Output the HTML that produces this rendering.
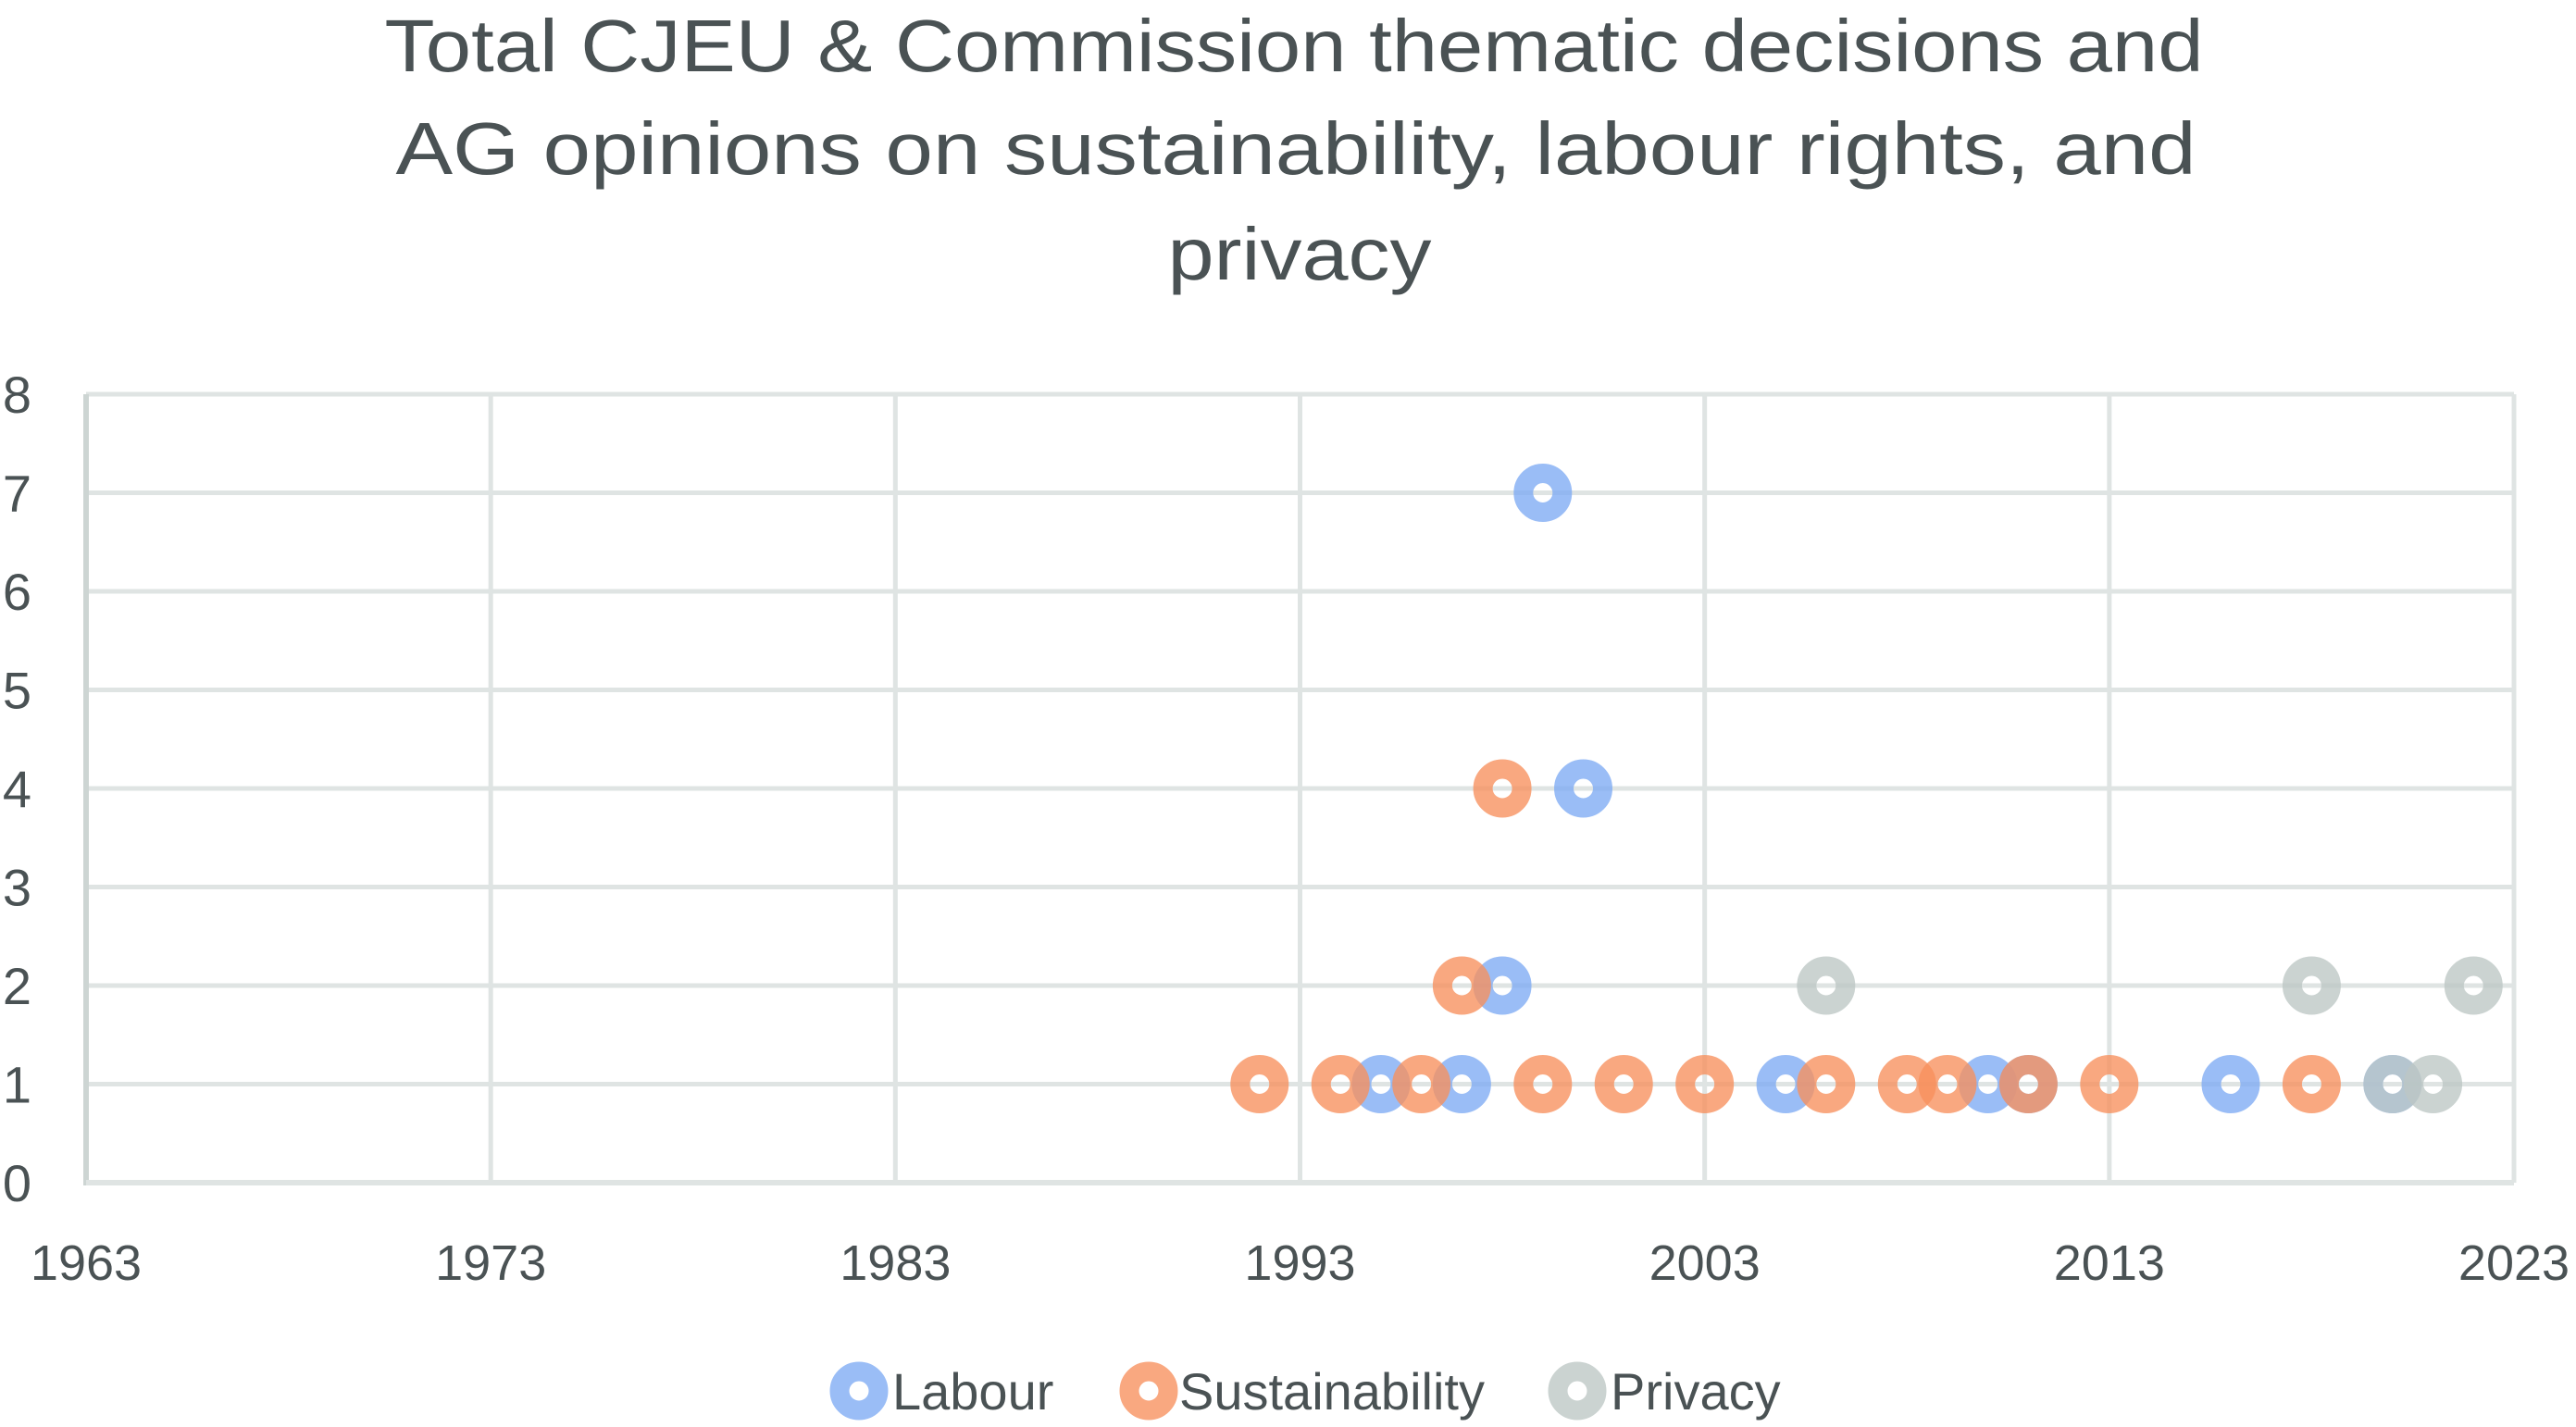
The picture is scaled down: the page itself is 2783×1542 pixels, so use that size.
<!DOCTYPE html>
<html><head><meta charset="utf-8"><style>
html,body{margin:0;padding:0;background:#fff;}
svg{display:block;font-family:"Liberation Sans",sans-serif;}
</style></head><body>
<svg id="chart" width="2783" height="1542" viewBox="0 0 2783 1542">
<g fill="#4a5254" font-size="80" text-anchor="middle">
<text x="1398" y="77" textLength="1965" lengthAdjust="spacingAndGlyphs">Total CJEU &amp; Commission thematic decisions and</text>
<text x="1400" y="188" textLength="1945" lengthAdjust="spacingAndGlyphs">AG opinions on sustainability, labour rights, and</text>
<text x="1404" y="302" textLength="285" lengthAdjust="spacingAndGlyphs">privacy</text>
</g>
<g id="grid"></g>
<g id="axes"></g>
<g id="marks"></g>
<g id="legend"></g>
</svg>
<script>
const yTicks = [0,1,2,3,4,5,6,7,8];
const xTicks = [1963,1973,1983,1993,2003,2013,2023];
const labourYears = [1999,2000,1998,1995,1997,2005,2010,2011,2016,2020];
const labourValues = [7,4,2,1,1,1,1,1,1,1];
const sustYears = [1998,1997,1992,1994,1996,1999,2001,2003,2006,2008,2009,2011,2013,2018];
const sustValues = [4,2,1,1,1,1,1,1,1,1,1,1,1,1];
const privYears = [2006,2018,2022,2020,2021];
const privValues = [2,2,2,1,1];
const seriesNames = ["Labour","Sustainability","Privacy"];

const NS="http://www.w3.org/2000/svg";
const L=93,R=2716,T=426,B=1278;
const X0=1963,X1=2023,Y0=0,Y1=8;
function xs(v){return L+(v-X0)/(X1-X0)*(R-L);}
function ys(v){return B-(v-Y0)/(Y1-Y0)*(B-T);}
function mk(tag,attrs,parent){const e=document.createElementNS(NS,tag);for(const k in attrs)e.setAttribute(k,attrs[k]);parent.appendChild(e);return e;}
const grid=document.getElementById('grid'),axes=document.getElementById('axes'),marks=document.getElementById('marks'),legend=document.getElementById('legend');
yTicks.forEach(t=>{
  const l=mk('line',{x1:L,x2:R,y1:ys(t),y2:ys(t),stroke:'#dfe4e3','stroke-width':5},grid);
  
  
  const tx=mk('text',{x:34,y:ys(t)+20,'font-size':56,fill:'#4a5254','text-anchor':'end'},axes);
  tx.textContent=t;
  
  
});
xTicks.forEach(t=>{
  const l=mk('line',{x1:xs(t),x2:xs(t),y1:T,y2:B,stroke:'#dfe4e3','stroke-width':5},grid);
  
  
  const tx=mk('text',{x:xs(t),y:1383,'font-size':54,fill:'#4a5254','text-anchor':'middle'},axes);
  tx.textContent=t;
  
  
});
const ax=mk('line',{x1:L,x2:L,y1:T,y2:B+3,stroke:'#cdd5d3','stroke-width':6},axes);


const bx=mk('line',{x1:L,x2:R,y1:B,y2:B,stroke:'#dfe4e3','stroke-width':6},axes);


const colors=['#7eaaf3','#f78f5c','#bdc7c4'];
function ring(cx,cy,c,parent){
  return mk('circle',{cx:cx,cy:cy,r:21,fill:'none',stroke:c,'stroke-width':21,'stroke-opacity':0.78},parent);
}
[[labourYears,labourValues],[sustYears,sustValues],[privYears,privValues]].forEach((s,i)=>{
  s[0].forEach((yr,j)=>{
    const e=ring(xs(yr),ys(s[1][j]),colors[i],marks);
    
    
  });
});
const legPos=[[928,964],[1241,1274],[1704,1740]];
seriesNames.forEach((n,i)=>{
  const e=ring(legPos[i][0],1503,colors[i],legend);
  
  
  const t=mk('text',{x:legPos[i][1],y:1523,'font-size':56,fill:'#4a5254'},legend);
  t.textContent=n;
  
  
});
</script>
</body></html>
